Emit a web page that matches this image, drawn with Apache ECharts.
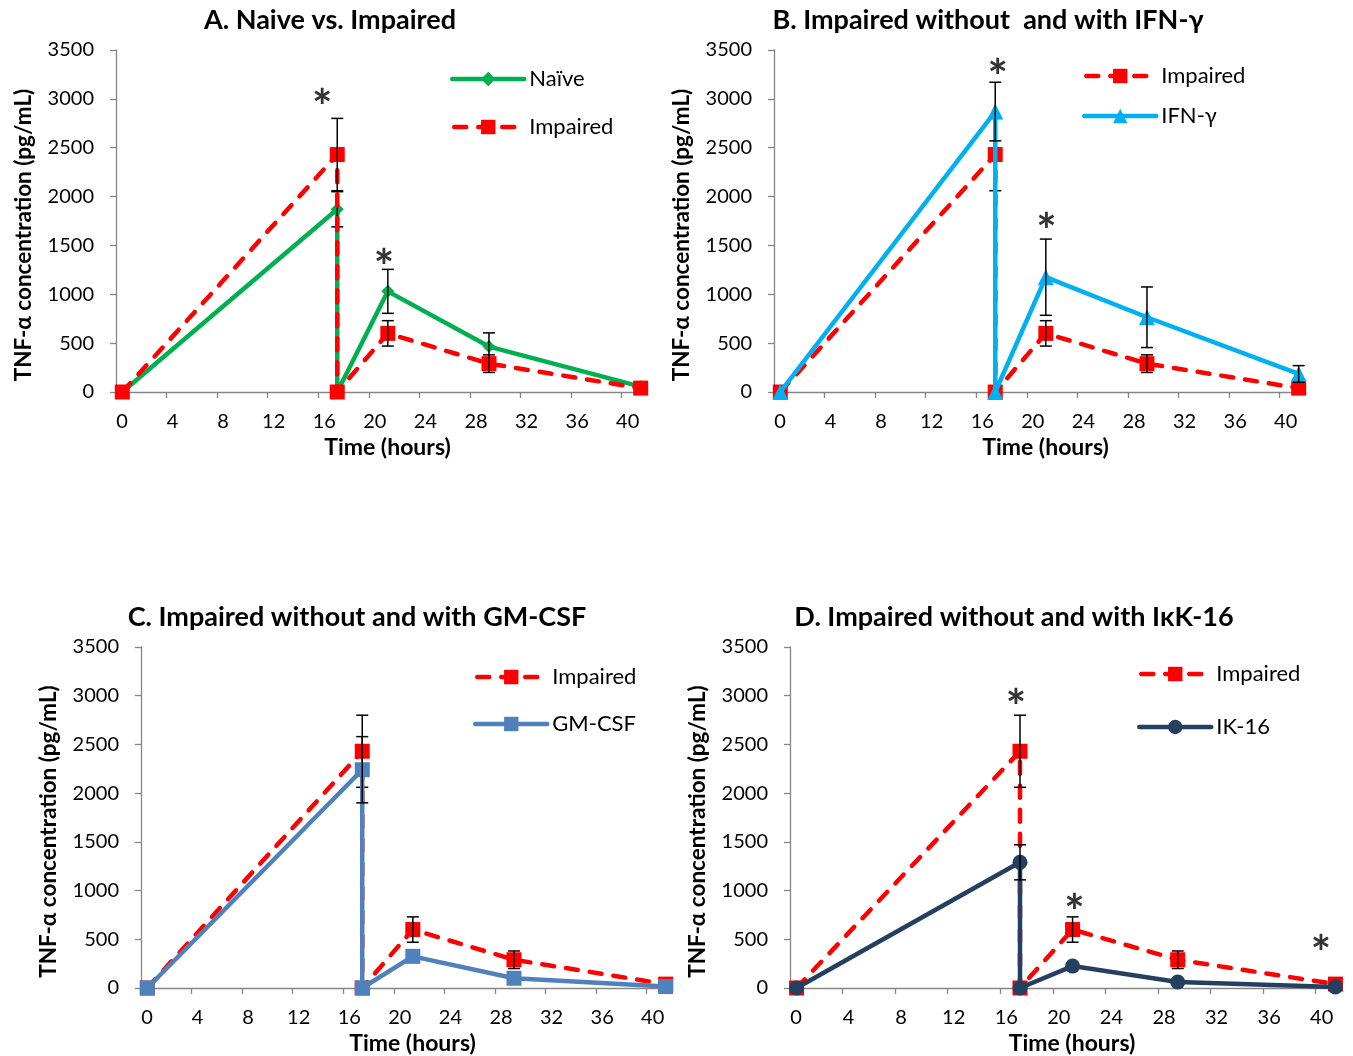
<!DOCTYPE html>
<html>
<head>
<meta charset="utf-8">
<script src="https://cdn.jsdelivr.net/npm/echarts@6/dist/echarts.min.js"></script>
<style>html,body{margin:0;padding:0;background:#fff}#c{width:1353px;height:1056px}</style>
</head>
<body>
<div id="c"></div>
<script>
// ---- data ----
const xHours = [0.5, 17.5, 17.5, 21.5, 29.5, 41.5];
const xTickValues = [0, 4, 8, 12, 16, 20, 24, 28, 32, 36, 40];

const impaired    = [0, 2430, 0, 600, 290, 40];
const impairedErr = [0, 370, 0, 130, 90, 0];
const naive       = [0, 1870, 0, 1030, 465, 55];
const naiveErr    = [0, 180, 0, 225, 140, 0];
const ifng        = [0, 2870, 0, 1175, 765, 185];
const ifngErr     = [0, 300, 0, 390, 310, 85];
const gmcsf       = [0, 2240, 0, 325, 100, 15];
const gmcsfErr    = [0, 340, 0, 0, 0, 0];
const ik16        = [0, 1290, 0, 225, 62, 10];
const ik16Err     = [0, 180, 0, 0, 0, 0];

const starsA = [[16.3, 3020], [21.2, 1390]];
const starsB = [[17.7, 3330], [21.55, 1760]];
const starsC = [];
const starsD = [[17.2, 2990], [21.65, 885], [40.4, 470]];

const titles = ['A. Naive vs. Impaired', 'B. Impaired without  and with IFN-\u03b3',
                'C. Impaired without and with GM-CSF', 'D. Impaired without and with I\u03baK-16'];
const xName = 'Time (hours)';
const yName = 'TNF-\u03b1 concentration (pg/mL)';

// ---- styles ----
const FONT = 'Lato, "Open Sans", sans-serif';
const styles = {
  'Naïve':    {color: '#00B050', symbol: 'diamond', size: 13, dash: 'solid'},
  'Impaired': {color: '#FF0000', symbol: 'rect', size: 15, dash: [12, 12]},
  'IFN-\u03b3': {color: '#00B0F0', symbol: 'triangle', size: 16, dash: 'solid'},
  'GM-CSF':   {color: '#4F81BD', symbol: 'rect', size: 15, dash: 'solid'},
  'IK-16':    {color: '#243F60', symbol: 'circle', size: 15, dash: 'solid'}
};

const panels = [
  {grid: {left: 116, top: 50, width: 531, height: 342}, title: [330, 20],
   legend: {left: 450, top: 68, itemGap: 26},
   series: [['Naïve', naive, naiveErr], ['Impaired', impaired, impairedErr]], stars: starsA},
  {grid: {left: 774, top: 50, width: 531, height: 342}, title: [988, 20],
   legend: {left: 1082, top: 65, itemGap: 18},
   series: [['Impaired', impaired, impairedErr], ['IFN-\u03b3', ifng, ifngErr]], stars: starsB},
  {grid: {left: 141, top: 647, width: 531, height: 341}, title: [357, 617],
   legend: {left: 473, top: 666, itemGap: 25},
   series: [['Impaired', impaired, impairedErr], ['GM-CSF', gmcsf, gmcsfErr]], stars: starsC},
  {grid: {left: 790, top: 647, width: 552, height: 341}, title: [1014, 617],
   legend: {left: 1137, top: 663, itemGap: 31},
   series: [['Impaired', impaired, impairedErr], ['IK-16', ik16, ik16Err]], stars: starsD}
];

const axisLineStyle = {color: '#868686', width: 1.3};
const option = {
  animation: false,
  backgroundColor: '#fff',
  textStyle: {fontFamily: FONT},
  grid: [], xAxis: [], yAxis: [], legend: [], series: [], graphic: []
};

function errRender(params, api) {
  const x = api.value(0), lo = api.value(1), hi = api.value(2);
  const p1 = api.coord([x, lo]), p2 = api.coord([x, hi]);
  const hw = 6, st = {stroke: '#000', lineWidth: 1.5};
  return {type: 'group', children: [
    {type: 'line', shape: {x1: p1[0], y1: p1[1], x2: p2[0], y2: p2[1]}, style: st},
    {type: 'line', shape: {x1: p1[0] - hw, y1: p1[1], x2: p1[0] + hw, y2: p1[1]}, style: st},
    {type: 'line', shape: {x1: p2[0] - hw, y1: p2[1], x2: p2[0] + hw, y2: p2[1]}, style: st}
  ]};
}

panels.forEach((p, k) => {
  option.grid.push(Object.assign({containLabel: false}, p.grid));
  option.xAxis.push({
    type: 'value', gridIndex: k, min: 0, max: 42,
    name: xName, nameLocation: 'middle', nameGap: 44,
    nameTextStyle: {fontFamily: FONT, fontSize: 23, fontWeight: 'bold', color: '#000', padding: [0, 0, 0, 12]},
    axisLine: {lineStyle: axisLineStyle},
    axisTick: {show: true, length: 6, lineStyle: axisLineStyle, customValues: xTickValues},
    axisLabel: {customValues: xTickValues, fontFamily: FONT, fontSize: 20, color: '#000', margin: 20, padding: [0, 0, 0, 12]},
    splitLine: {show: false}
  });
  option.yAxis.push({
    type: 'value', gridIndex: k, min: 0, max: 3500, interval: 500,
    name: yName, nameLocation: 'middle', nameGap: 81,
    nameTextStyle: {fontFamily: FONT, fontSize: 22.5, fontWeight: 'bold', color: '#000', padding: [0, 28, 0, 0]},
    axisLine: {show: true, lineStyle: axisLineStyle},
    axisTick: {show: true, length: 6, lineStyle: axisLineStyle},
    axisLabel: {fontFamily: FONT, fontSize: 20, color: '#000', margin: 22, formatter: v => String(v)},
    splitLine: {show: false}
  });
  option.legend.push({
    left: p.legend.left, top: p.legend.top, orient: 'vertical', itemGap: p.legend.itemGap,
    padding: 0, itemWidth: 72, itemHeight: 18, selectedMode: false,
    lineStyle: {width: 4.5, cap: 'round', dashOffset: -2},
    textStyle: {fontFamily: FONT, fontSize: 22, color: '#000', lineHeight: 22},
    data: p.series.map(s => s[0])
  });
  p.series.forEach((s, j) => {
    const st = styles[s[0]];
    option.series.push({
      type: 'line', name: s[0], xAxisIndex: k, yAxisIndex: k, z: 2 + j * 2,
      data: xHours.map((x, i) => [x, s[1][i]]),
      symbol: st.symbol, symbolSize: st.size, showAllSymbol: true, clip: false,
      itemStyle: {color: st.color},
      lineStyle: {color: st.color, width: 4.5, type: st.dash, cap: 'round'}
    });
    option.series.push({
      type: 'custom', name: s[0] + ' error', xAxisIndex: k, yAxisIndex: k, z: 3 + j * 2, silent: true,
      data: xHours.map((x, i) => [x, s[1][i] - s[2][i], s[1][i] + s[2][i]]).filter(d => d[2] > d[1]),
      encode: {x: 0, y: [1, 2]},
      renderItem: errRender
    });
  });
  option.series.push({
    type: 'scatter', name: 'sig' + k, xAxisIndex: k, yAxisIndex: k, z: 10, silent: true,
    data: p.stars, symbolSize: 1, itemStyle: {color: 'rgba(0,0,0,0)'},
    label: {show: true, position: 'inside', formatter: '*', fontFamily: FONT, fontSize: 48,
            fontWeight: 'bold', color: '#000', offset: [0, 12]}
  });
  option.graphic.push({
    type: 'text', x: p.title[0], y: p.title[1], silent: true,
    style: {text: titles[k], align: 'center', verticalAlign: 'middle',
            font: 'bold 27px ' + FONT, fill: '#000'}
  });
});

const chart = echarts.init(document.getElementById('c'), null, {renderer: 'canvas'});
chart.setOption(option);
</script>
</body>
</html>
